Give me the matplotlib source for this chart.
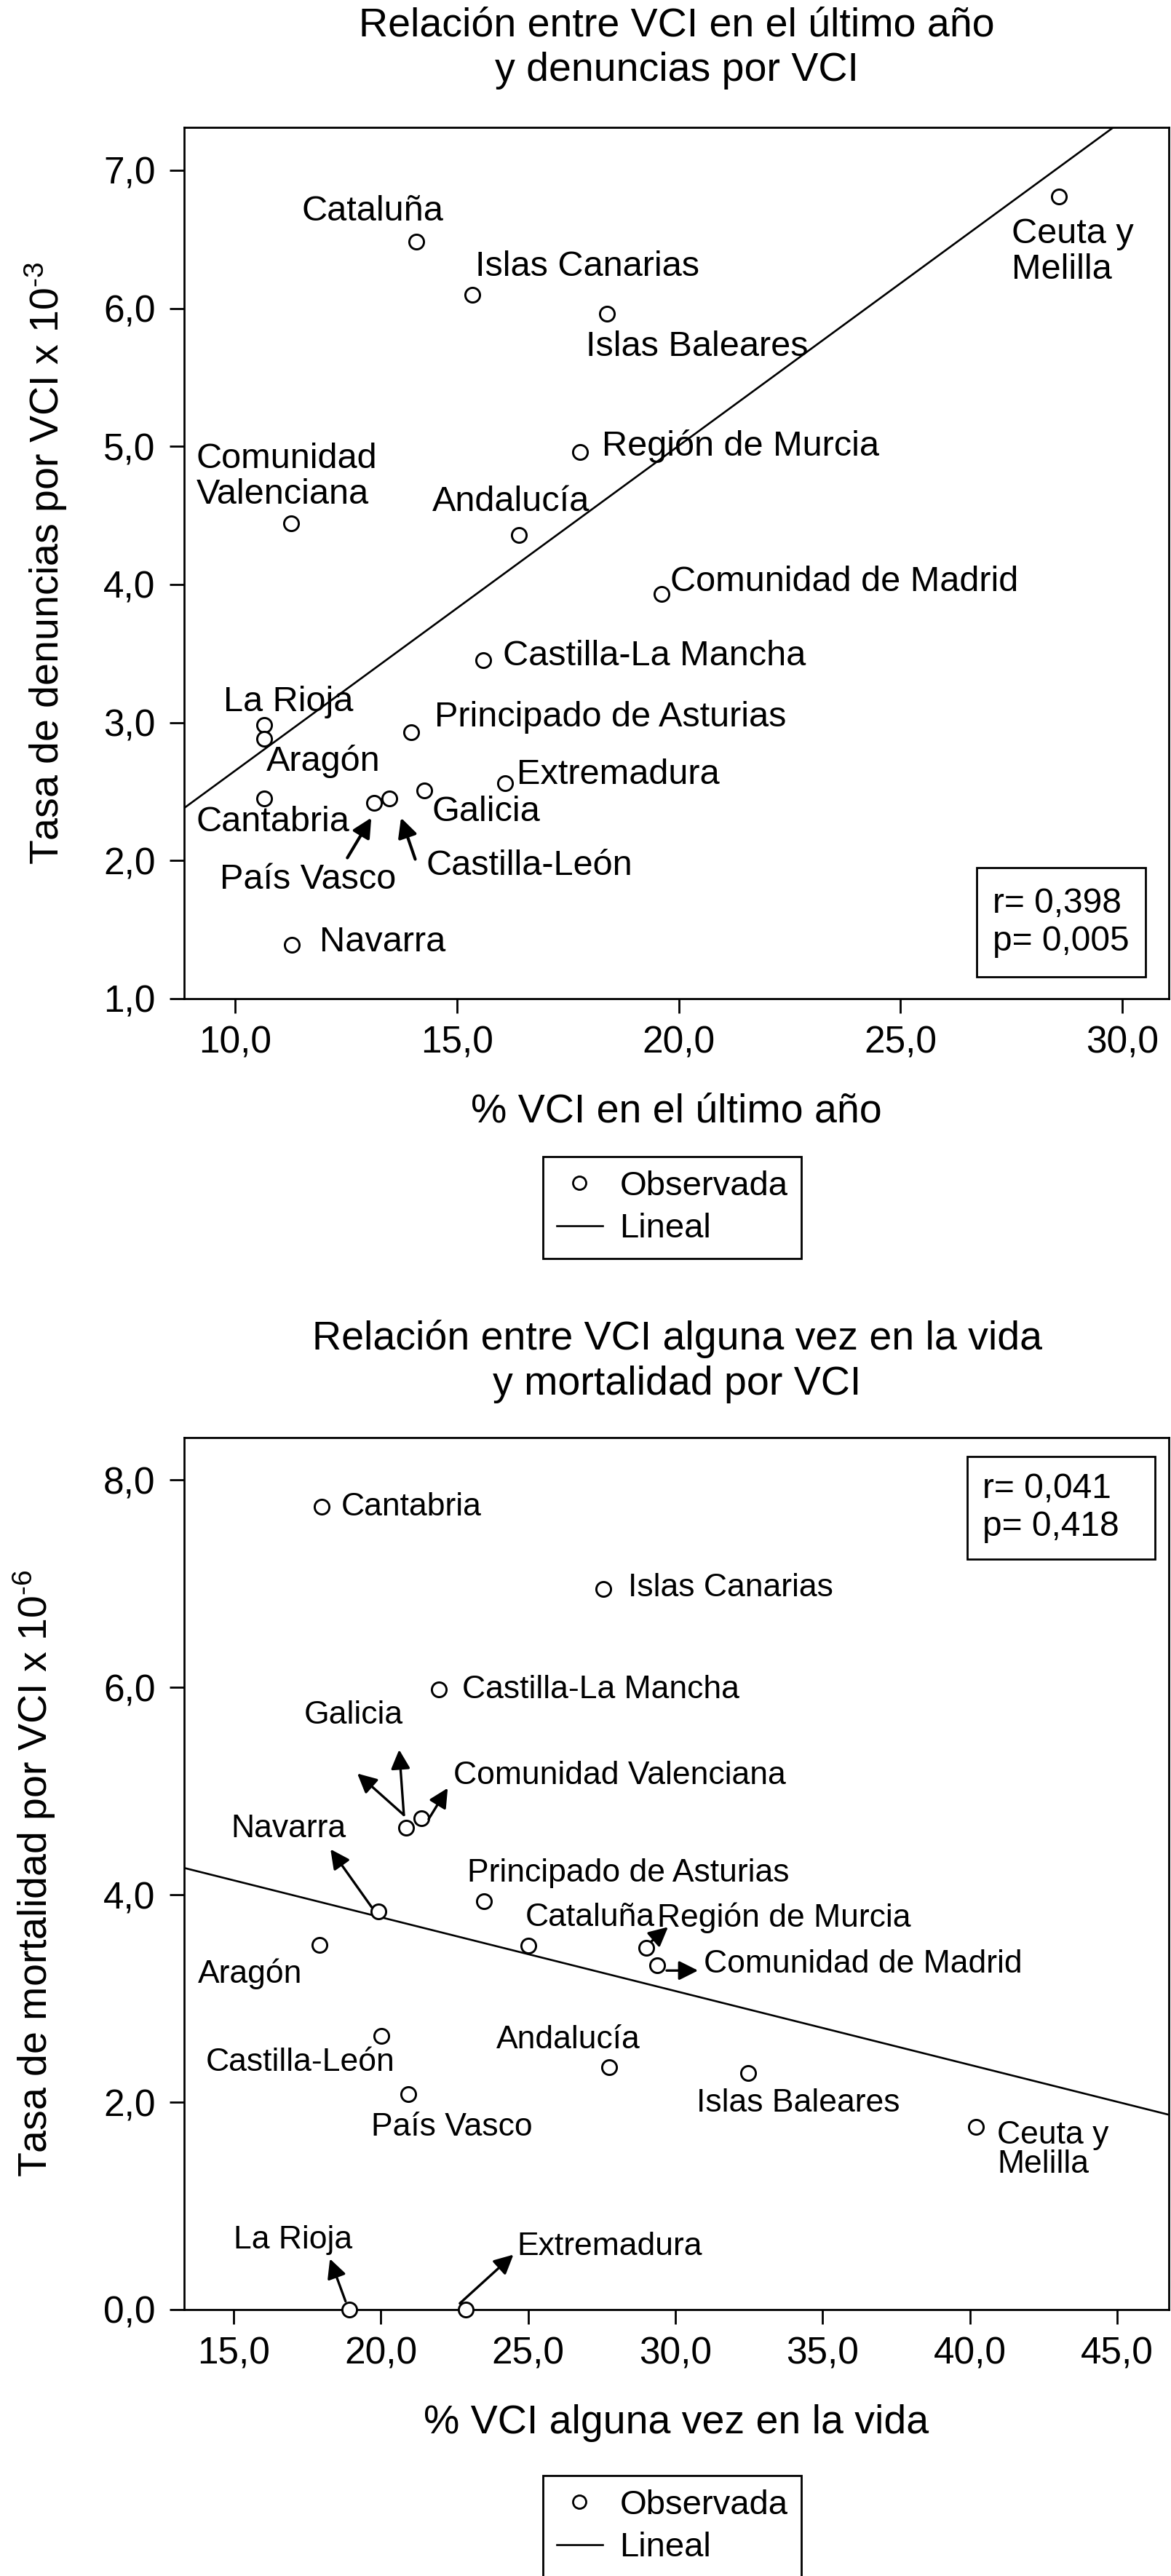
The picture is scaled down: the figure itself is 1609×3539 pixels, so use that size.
import matplotlib
matplotlib.use("Agg")
import matplotlib.pyplot as plt
from matplotlib.lines import Line2D
from matplotlib.patches import Rectangle
from matplotlib.ticker import FuncFormatter, MultipleLocator

plt.rcParams['font.family'] = ['Liberation Sans', 'DejaVu Sans']
plt.rcParams['mathtext.fontset'] = 'custom'
plt.rcParams['mathtext.rm'] = 'Liberation Sans'
plt.rcParams['mathtext.it'] = 'Liberation Sans'
plt.rcParams['mathtext.bf'] = 'Liberation Sans'

# ---- grafico 1: VCI en el ultimo año vs denuncias ----
regiones_1 = ["Cataluña", "Islas Canarias", "Islas Baleares", "Región de Murcia",
              "Comunidad\nValenciana", "Andalucía", "Comunidad de Madrid",
              "Castilla-La Mancha", "La Rioja", "Aragón", "Principado de Asturias",
              "Extremadura", "Galicia", "Cantabria", "País Vasco", "Castilla-León",
              "Navarra", "Ceuta y\nMelilla"]
vci_ultimo = [14.09, 15.35, 18.38, 17.78, 11.26, 16.40, 19.61, 15.59, 10.66, 10.66,
              13.97, 16.09, 14.26, 10.66, 13.13, 13.47, 11.28, 28.57]
denuncias = [6.48, 6.10, 5.96, 4.96, 4.44, 4.36, 3.93, 3.45, 2.98, 2.88,
             2.93, 2.56, 2.51, 2.45, 2.42, 2.45, 1.39, 6.81]
recta_1 = (0.2353, 0.298)   # pendiente, ordenada
stats_1 = "r= 0,398\np= 0,005"

# ---- grafico 2: VCI alguna vez en la vida vs mortalidad ----
regiones_2 = ["Cantabria", "Islas Canarias", "Castilla-La Mancha", "Comunidad Valenciana",
              "Galicia", "Navarra", "Principado de Asturias", "Aragón", "Cataluña",
              "Región de Murcia", "Comunidad de Madrid", "Castilla-León", "Andalucía",
              "Islas Baleares", "País Vasco", "Ceuta y\nMelilla", "La Rioja", "Extremadura"]
vci_vida = [17.99, 27.54, 21.97, 21.38, 20.85, 19.92, 23.49, 17.91, 25.01,
            29.01, 29.39, 20.02, 27.74, 32.48, 20.93, 40.21, 18.93, 22.88]
mortalidad = [7.74, 6.95, 5.98, 4.74, 4.65, 3.84, 3.94, 3.52, 3.51,
              3.49, 3.32, 2.64, 2.34, 2.28, 2.08, 1.76, 0.0, 0.0]
recta_2 = (-0.0712, 5.208)
stats_2 = "r= 0,041\np= 0,418"

# posiciones de las etiquetas (x izq, y centro) en unidades de datos
pos_1 = [(11.50, 6.70), (15.42, 6.30), (17.91, 5.72), (18.27, 5.00), (9.12, 4.78),
         (14.44, 4.60), (19.81, 4.02), (16.04, 3.48), (9.73, 3.15), (10.71, 2.72),
         (14.49, 3.04), (16.35, 2.62), (14.44, 2.35), (9.12, 2.28), (9.66, 1.86),
         (14.31, 1.96), (11.90, 1.41), (27.51, 6.41)]
pos_2 = [(18.65, 7.74), (28.40, 6.96), (22.75, 5.98), (22.45, 5.15), (17.38, 5.73),
         (14.92, 4.64), (22.93, 4.21), (13.78, 3.24), (24.91, 3.78), (29.37, 3.78),
         (30.96, 3.33), (14.06, 2.38), (23.92, 2.60), (30.71, 1.99), (19.66, 1.76),
         (40.92, 1.54), (15.0, 0.67), (24.63, 0.61)]
# flechas (desde, hasta)
flechas_1 = [((12.53, 2.02), (13.07, 2.31)), ((14.06, 2.01), (13.74, 2.31))]
flechas_2 = [((20.78, 4.77), (20.62, 5.40)), ((20.78, 4.77), (19.20, 5.17)),
             ((21.62, 4.73), (22.27, 5.03)), ((19.69, 3.88), (18.29, 4.44)),
             ((29.18, 3.55), (29.75, 3.69)), ((29.70, 3.27), (30.77, 3.27)),
             ((18.80, 0.08), (18.27, 0.49)), ((22.68, 0.06), (24.50, 0.53))]

W, H = 1609, 3539
fig = plt.figure(figsize=(W / 100, H / 100), dpi=100)
coma = FuncFormatter(lambda v, p: f"{v:.1f}".replace('.', ','))


def panel(top, bottom, xs, ys, nombres, pos, flechas, recta, stats, xlim, ylim, ystep,
          titulo, title_y, xlabel, ylabel, ylab_x, lab_fs, lsp, statbox, leg_y, arrow_lw):
    ax = fig.add_axes([253 / W, 1 - bottom / H, (1606 - 253) / W, (bottom - top) / H])
    ax.set_xlim(*xlim)
    ax.set_ylim(*ylim)
    ax.xaxis.set_major_locator(MultipleLocator(5))
    ax.yaxis.set_major_locator(MultipleLocator(ystep))
    ax.xaxis.set_major_formatter(coma)
    ax.yaxis.set_major_formatter(coma)
    ax.tick_params(direction='out', length=14.4, width=2.0, labelsize=37)
    ax.tick_params(axis='x', pad=12)
    ax.tick_params(axis='y', pad=14)
    for s in ax.spines.values():
        s.set_linewidth(2.0)

    ax.plot(list(xlim), [recta[0] * v + recta[1] for v in xlim], color='black', lw=1.9)
    ax.plot(xs, ys, 'o', ms=14.5, mfc='white', mec='black', mew=2.1, clip_on=False, zorder=3)
    for nombre, (px, py) in zip(nombres, pos):
        ax.text(px, py, nombre, fontsize=lab_fs, ha='left', va='center', linespacing=lsp)
    for a, b in flechas:
        ax.annotate("", xy=b, xytext=a,
                    arrowprops=dict(arrowstyle='-|>', color='black', lw=arrow_lw,
                                    mutation_scale=40, shrinkA=0, shrinkB=0))

    bx0, by0, bx1, by1 = statbox
    ax.add_patch(Rectangle((bx0, by0), bx1 - bx0, by1 - by0, transform=ax.transAxes,
                           fill=False, ec='black', lw=2.0))
    ax.text(bx0 + 0.016, (by0 + by1) / 2, stats, transform=ax.transAxes, fontsize=34.5,
            ha='left', va='center', linespacing=1.2)

    fig.text(930 / W, 1 - title_y / H, titulo, ha='center', va='center', fontsize=40,
             linespacing=1.25)
    ax.set_xlabel(xlabel, fontsize=40, va='center')
    ax.xaxis.set_label_coords(0.5, -0.13)
    ax.set_ylabel(ylabel, fontsize=40, va='center')
    ax.yaxis.set_label_coords(ylab_x, 0.5)

    handles = [Line2D([], [], ls='none', marker='o', ms=13, mfc='white', mec='black', mew=2.0),
               Line2D([], [], color='black', lw=1.9)]
    leg = fig.legend(handles, ["Observada", "Lineal"], loc='upper left',
                     bbox_to_anchor=(746 / W, 1 - leg_y / H), fontsize=34, frameon=True,
                     fancybox=False, edgecolor='black', framealpha=1, borderpad=0.4,
                     handlelength=1.33, handletextpad=0.5, labelspacing=0.3,
                     borderaxespad=0)
    leg.get_frame().set_linewidth(2.0)
    return ax


panel(175, 1372, vci_ultimo, denuncias, regiones_1, pos_1, flechas_1, recta_1, stats_1,
      (8.85, 31.05), (1.0, 7.31), 1.0,
      "Relación entre VCI en el último año\ny denuncias por VCI", 66,
      "% VCI en el último año", r"Tasa de denuncias por VCI x 10$^{\text{-3}}$", -0.14,
      35, 1.12, (0.805, 0.025, 0.976, 0.150), 1589, 3.0)

panel(1975, 3173, vci_vida, mortalidad, regiones_2, pos_2, flechas_2, recta_2, stats_2,
      (13.32, 46.75), (0.0, 8.41), 2.0,
      "Relación entre VCI alguna vez en la vida\ny mortalidad por VCI", 1871,
      "% VCI alguna vez en la vida", r"Tasa de mortalidad por VCI x 10$^{\text{-6}}$", -0.152,
      32, 0.95, (0.795, 0.861, 0.986, 0.978), 3401, 2.4)

fig.savefig("out.png", dpi=100)
